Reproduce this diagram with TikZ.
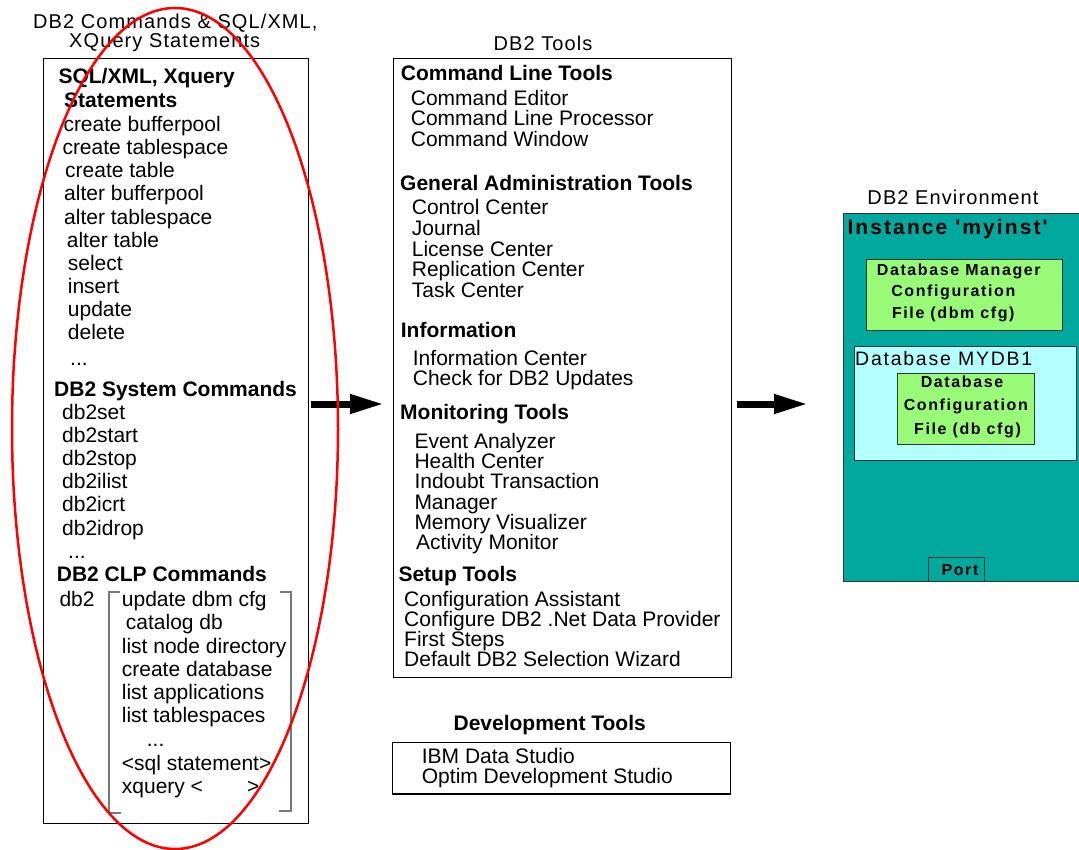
\documentclass[tikz,border=0pt]{standalone}
\usepackage{fontspec}
\newfontfamily\af{Liberation Sans}
\usetikzlibrary{arrows.meta,calc}
\definecolor{envteal}{RGB}{0,168,157}
\definecolor{cfggreen}{RGB}{153,250,120}
\definecolor{dbcyan}{RGB}{180,255,255}
\definecolor{brgray}{RGB}{120,120,120}
\newcommand\threedots{...}
\tikzset{
 txt/.style={anchor=base west, inner sep=0pt, font=\af\fontsize{21}{21}\selectfont},
 hdr/.style={anchor=base west, inner sep=0pt, font=\af\bfseries\fontsize{21}{21}\selectfont},
 ttl/.style={anchor=base west, inner sep=0pt, font=\af\fontsize{20}{20}\selectfont\addfontfeature{LetterSpace=5.5}},
 panel/.style={draw=black, line width=1.2pt, anchor=north west, inner sep=0pt},
 cfgbox/.style={draw=black!80, line width=1pt, fill=cfggreen, anchor=north west, inner sep=0pt},
 bigarrow/.style={line width=7pt, -{Triangle[length=34pt,width=18pt]}},
 envtxt/.style={anchor=base, inner sep=0pt, font=\af\bfseries\fontsize{16}{21}\selectfont\addfontfeature{LetterSpace=10}},
 brk/.style={draw=brgray, line width=2.2pt},
}
\begin{document}
\begin{tikzpicture}[x=1pt,y=-1pt]
\useasboundingbox (0,0) rectangle (1079,850);
\fill[white] (0,0) rectangle (1079,850);

% ---------- left panel ----------
\node[ttl] (lt1) at (33,28.3) {DB2 Commands \& SQL/XML,};
\node[ttl] (lt2) at (69,47.3) {XQuery Statements};
\node[panel, minimum width=264.7pt, minimum height=765pt] (leftbox) at (43,58) {};

\node[hdr] (sqlh1) at (58.3,84) {SQL/XML, Xquery};
\node[hdr] (sqlh2) at (64,107.3) {Statements};
\foreach \xx/\yy/\lbl [count=\k] in {63.3/131.7/create bufferpool, 62.3/154.8/create tablespace,
  65/177.9/create table, 64/201/alter bufferpool, 64/224.1/alter tablespace, 66.7/247.2/alter table,
  67.7/270.3/select, 67.7/293.4/insert, 67.7/316.5/update, 67.7/339.6/delete, 70/365/\threedots}
  \node[txt] (sql\k) at (\xx,\yy) {\lbl};

\node[hdr] (sysh) at (54,396.4) {DB2 System Commands};
\foreach \xx/\yy/\lbl [count=\k] in {62/419.5/db2set, 62/442.6/db2start, 62/465.7/db2stop,
  62/488.8/db2ilist, 62/511.9/db2icrt, 62/535/db2idrop, 68/558.1/\threedots}
  \node[txt] (sys\k) at (\xx,\yy) {\lbl};

\node[hdr] (clph) at (56.7,581.7) {DB2 CLP Commands};
\node[txt] (db2) at (59.3,606) {db2};
\foreach \xx/\yy/\lbl [count=\k] in {121.7/606/update dbm cfg, 125.7/629/catalog db,
  121.7/653.3/list node directory, 121.7/676.7/create database, 121.7/699.3/list applications,
  121.7/722.7/list tablespaces, 146.7/746.7/\threedots, 121.7/770.7/<sql statement>,
  121.7/793.3/xquery <\hspace{44pt}>}
  \node[txt] (clp\k) at (\xx,\yy) {\lbl};
\draw[brk] (120,592.3) -- (109,592.3) -- (109,813.3) -- (120.7,813.3);
\draw[brk] (280,592.3) -- (290.7,592.3) -- (290.7,810.7) -- (279,810.7);

% ---------- middle panel ----------
\node[ttl, anchor=base] (mt) at (543,50.5) {DB2 Tools};
\node[panel, minimum width=338pt, minimum height=619pt] (tools) at (393,58) {};

\node[hdr] (g1) at (400.7,80.9) {Command Line Tools};
\foreach \yy/\lbl [count=\k] in {105.6/Command Editor, 126/Command Line Processor, 146.7/Command Window}
  \node[txt] (g1i\k) at (410.7,\yy) {\lbl};

\node[hdr] (g2) at (400,190.5) {General Administration Tools};
\foreach \yy/\lbl [count=\k] in {214.4/Control Center, 235.2/Journal, 256.3/License Center,
  277/Replication Center, 297.3/Task Center}
  \node[txt] (g2i\k) at (411.7,\yy) {\lbl};

\node[hdr] (g3) at (400.7,337.2) {Information};
\foreach \yy/\lbl [count=\k] in {365.1/Information Center, 385.8/Check for DB2 Updates}
  \node[txt] (g3i\k) at (412.7,\yy) {\lbl};

\node[hdr] (g4) at (400,419.7) {Monitoring Tools};
\foreach \xx/\yy/\lbl [count=\k] in {414.3/448.4/Event Analyzer, 414.3/468.7/Health Center,
  414.3/488.6/Indoubt Transaction, 414.3/509.4/Manager, 414.3/529.3/Memory Visualizer,
  416/549.2/Activity Monitor}
  \node[txt] (g4i\k) at (\xx,\yy) {\lbl};

\node[hdr] (g5) at (398.3,581.1) {Setup Tools};
\foreach \yy/\lbl [count=\k] in {606.2/Configuration Assistant, 626.1/Configure DB2 .Net Data Provider,
  646.1/First Steps, 666/Default DB2 Selection Wizard}
  \node[txt] (g5i\k) at (404,\yy) {\lbl};

% ---------- development tools ----------
\node[hdr, anchor=base] (dt) at (549.7,730) {Development Tools};
\node[panel, minimum width=338.3pt, minimum height=51.6pt] (devbox) at (391.7,741.7) {};
\node[txt] (dev1) at (421.7,763.3) {IBM Data Studio};
\node[txt] (dev2) at (421.7,783) {Optim Development Studio};

% ---------- environment ----------
\node[ttl, anchor=base] (et) at (953,205) {DB2 Environment};
\node[draw=black!80, line width=1.2pt, fill=envteal, anchor=north west, inner sep=0pt,
      minimum width=240pt, minimum height=367.5pt] (env) at (843,213) {};
\node[anchor=base west, inner sep=0pt, font=\af\bfseries\fontsize{21}{21}\selectfont\addfontfeature{LetterSpace=10}]
  (inst) at (847.3,235) {Instance 'myinst'};
\node[cfgbox, minimum width=196.3pt, minimum height=70.7pt] (mgr) at (866,259.3) {};
\node[envtxt] (mgr1) at (958.8,276) {Database Manager};
\node[envtxt] (mgr2) at (953.3,296.7) {Configuration};
\node[envtxt] (mgr3) at (953.3,318.3) {File (dbm cfg)};

\node[draw=black!80, line width=1pt, fill=dbcyan, anchor=north west, inner sep=0pt,
      minimum width=221.7pt, minimum height=114.3pt] (mydb) at (854,345.7) {};
\node[anchor=base west, inner sep=0pt, font=\af\fontsize{19.5}{21}\selectfont\addfontfeature{LetterSpace=9}]
  (mydbt) at (855,365) {Database MYDB1};
\node[cfgbox, minimum width=136.7pt, minimum height=71pt] (dbc) at (897.3,373.3) {};
\node[envtxt] (dbc1) at (962,387.3) {Database};
\node[envtxt] (dbc2) at (965.8,410.7) {Configuration};
\node[envtxt] (dbc3) at (967.5,434) {File (db cfg)};

\node[draw=black!80, line width=1pt, anchor=north west, inner sep=0pt,
      minimum width=55.7pt, minimum height=23.8pt] (port) at (928.3,556.7) {};
\node[envtxt] (portt) at (960,575) {Port};

% ---------- arrows ----------
\coordinate (ay) at (0,404);
\draw[bigarrow] ($(leftbox.east |- ay)+(2.5,0)$) -- ($(tools.west |- ay)+(-9,0)$);
\draw[bigarrow] ($(tools.east |- ay)+(5,0)$) -- ($(env.west |- ay)+(-35,0)$);

% ---------- red ellipse ----------
\draw[red, line width=2.5pt] (175,428.5) ellipse [x radius=163, y radius=420.5];
\end{tikzpicture}
\end{document}
